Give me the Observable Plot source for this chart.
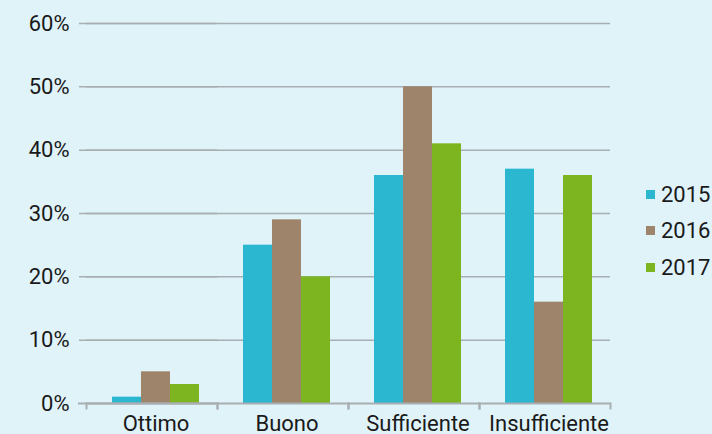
<!DOCTYPE html>
<html>
<head>
<meta charset="utf-8">
<script src="https://cdn.jsdelivr.net/npm/d3@7"></script>
<script src="https://cdn.jsdelivr.net/npm/@observablehq/plot@0.6"></script>
<style>
  html, body { margin: 0; padding: 0; background: #dff3f9; }
  #wrap { position: relative; width: 712px; height: 434px; overflow: hidden; font-family: Roboto, sans-serif; }
  #legend { position: absolute; left: 646px; top: 176px; font-size: 22px; color: #1a1a1a; }
  #legend .row { display: flex; align-items: center; height: 36.5px; }
  #legend .sw { width: 9px; height: 9px; margin-right: 6px; }
</style>
</head>
<body>
<div id="wrap"></div>
<script>
const categories = ["Ottimo", "Buono", "Sufficiente", "Insufficiente"];
const years = ["2015", "2016", "2017"];
const values2015 = [1, 25, 36, 37];
const values2016 = [5, 29, 50, 16];
const values2017 = [3, 20, 41, 36];
const yTicks = [0, 10, 20, 30, 40, 50, 60];
const colors = ["#2bb7d0", "#9e846b", "#7cb51f"];

const series = {"2015": values2015, "2016": values2016, "2017": values2017};
const data = categories.flatMap((c, i) => years.map(y => ({category: c, year: y, value: series[y][i]})));
const firstGrid = yTicks.map(t => ({category: categories[0], tick: t}));

const gridStroke = "#a8aeb1";

const chart = Plot.plot({
  width: 712,
  height: 434,
  marginTop: 23,
  marginBottom: 31,
  marginLeft: 85,
  marginRight: 102,
  style: {background: "transparent", fontFamily: "Roboto, sans-serif", fontSize: "22px", color: "#1a1a1a", overflow: "visible"},
  fx: {domain: categories, padding: 0, label: null},
  x: {domain: years, paddingInner: 0, paddingOuter: 0.716, align: 0.6, axis: null},
  y: {domain: [0, 60], ticks: yTicks, tickSize: 0, tickPadding: 17, tickFormat: d => d + "%", label: null},
  color: {domain: years, range: colors},
  marks: [
    Plot.ruleY(yTicks.slice(1), {stroke: gridStroke, strokeWidth: 1.5}),
    Plot.ruleY(firstGrid.slice(1), {fx: "category", y: "tick", stroke: gridStroke, strokeWidth: 1.5, insetLeft: -7}),
    Plot.barY(data, {fx: "category", x: "year", y: "value", fill: "year"}),
    Plot.ruleY([0], {stroke: gridStroke, strokeWidth: 2}),
    Plot.ruleY(firstGrid.slice(0, 1), {fx: "category", y: "tick", stroke: gridStroke, strokeWidth: 2, insetLeft: -8}),
    Plot.frame({anchor: "left", stroke: gridStroke, strokeWidth: 2, insetTop: 380, insetBottom: -5}),
    Plot.frame({anchor: "right", stroke: gridStroke, strokeWidth: 2, insetTop: 380, insetBottom: -5}),
    Plot.axisFx({anchor: "bottom", tickSize: 0, tickPadding: 12, dx: 4, label: null, fontSize: 22})
  ]
});

const wrap = document.getElementById("wrap");
wrap.appendChild(chart);

const color = chart.scale("color");
const legend = document.createElement("div");
legend.id = "legend";
for (const y of years) {
  const row = document.createElement("div");
  row.className = "row";
  const sw = document.createElement("span");
  sw.className = "sw";
  sw.style.background = color.range[color.domain.indexOf(y)];
  const label = document.createElement("span");
  label.textContent = y;
  row.appendChild(sw);
  row.appendChild(label);
  legend.appendChild(row);
}
wrap.appendChild(legend);
</script>
</body>
</html>
